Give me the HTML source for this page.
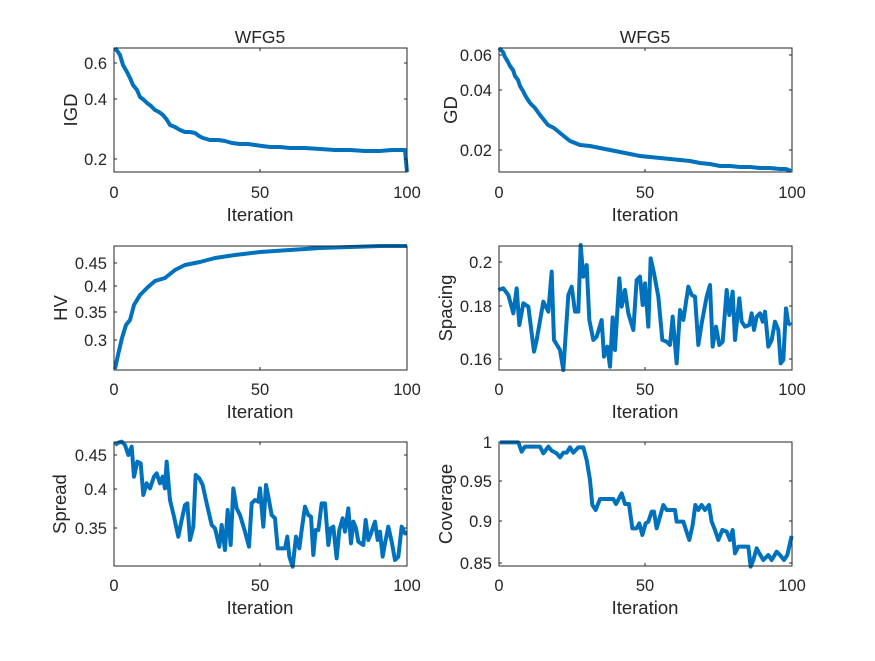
<!DOCTYPE html>
<html><head><meta charset="utf-8"><style>
body{margin:0;background:#fff}
svg text{font-family:"Liberation Sans",Arial,sans-serif;fill:#262626}
.t{font-size:16.5px}
.l{font-size:18.5px}
</style></head><body>
<svg width="875" height="656" viewBox="0 0 875 656" xmlns="http://www.w3.org/2000/svg">
<rect width="875" height="656" fill="#fff"/>
<text x="260" y="43" text-anchor="middle" font-size="17.5">WFG5</text>
<text x="645" y="43" text-anchor="middle" font-size="17.5">WFG5</text>

<!-- Plot 1 IGD -->
<g>
<polyline fill="none" stroke="#0072BD" stroke-width="4" stroke-linejoin="round" points="115,48 118,52 120,55 123,65 127,72 130,78 133,85 137,90 140,97 144,100 147,103 151,106 155,110 159,112 163,115 167,120 170,125 175,127 180,130 185,132 190,132 195,133 199,136 203,138 210,140 218,140 225,141 232,143 240,144 248,144 255,145 262,146 270,147 280,147 290,148 305,148 320,149 335,150 350,150 365,151 380,151 392,150 402,150 405,150 407,172"/>
<rect x="114" y="48" width="293" height="124" fill="none" stroke="#262626" stroke-width="1"/>
<g stroke="#262626"><line x1="114" y1="63" x2="117" y2="63"/><line x1="114" y1="99" x2="117" y2="99"/><line x1="114" y1="159" x2="117" y2="159"/><line x1="407" y1="63" x2="404" y2="63"/><line x1="407" y1="99" x2="404" y2="99"/><line x1="407" y1="159" x2="404" y2="159"/><line x1="260" y1="172" x2="260" y2="169"/><line x1="260" y1="48" x2="260" y2="51"/></g>
<g class="t" text-anchor="end"><text x="107" y="69">0.6</text><text x="107" y="105">0.4</text><text x="107" y="165">0.2</text></g>
<g class="t" text-anchor="middle"><text x="114" y="198">0</text><text x="260" y="198">50</text><text x="407" y="198">100</text></g>
<text class="l" x="260" y="221" text-anchor="middle">Iteration</text>
<text class="l" transform="translate(77,110) rotate(-90)" text-anchor="middle">IGD</text>
</g>

<!-- Plot 2 GD -->
<g>
<polyline fill="none" stroke="#0072BD" stroke-width="4" stroke-linejoin="round" points="499,48 503,52 505,57 508,62 510,66 513,70 515,76 518,80 520,86 523,91 525,95 528,100 530,103 535,108 540,115 544,120 548,125 554,128 560,133 565,137 570,141 575,143 580,145 590,146 600,148 610,150 620,152 630,154 640,156 650,157 660,158 670,159 680,160 690,161 700,163 710,164 720,166 730,166 740,167 750,167 760,168 770,168 780,169 786,169 791,171"/>
<rect x="499" y="48" width="293" height="124" fill="none" stroke="#262626" stroke-width="1"/>
<g stroke="#262626"><line x1="499" y1="55" x2="502" y2="55"/><line x1="499" y1="90" x2="502" y2="90"/><line x1="499" y1="150" x2="502" y2="150"/><line x1="792" y1="55" x2="789" y2="55"/><line x1="792" y1="90" x2="789" y2="90"/><line x1="792" y1="150" x2="789" y2="150"/><line x1="645" y1="172" x2="645" y2="169"/><line x1="645" y1="48" x2="645" y2="51"/></g>
<g class="t" text-anchor="end"><text x="492" y="61">0.06</text><text x="492" y="96">0.04</text><text x="492" y="156">0.02</text></g>
<g class="t" text-anchor="middle"><text x="499" y="198">0</text><text x="645" y="198">50</text><text x="792" y="198">100</text></g>
<text class="l" x="645" y="221" text-anchor="middle">Iteration</text>
<text class="l" transform="translate(457,110) rotate(-90)" text-anchor="middle">GD</text>
</g>

<!-- Plot 3 HV -->
<g>
<polyline fill="none" stroke="#0072BD" stroke-width="4" stroke-linejoin="round" points="115,369 118,355 122,338 126,325 130,320 134,305 140,295 148,287 155,281 165,278 175,270 185,265 200,262 215,258 235,255 260,252 290,250 320,248 350,247 380,246 407,246"/>
<rect x="114" y="246" width="293" height="124" fill="none" stroke="#262626" stroke-width="1"/>
<g stroke="#262626"><line x1="114" y1="263" x2="117" y2="263"/><line x1="114" y1="286" x2="117" y2="286"/><line x1="114" y1="312" x2="117" y2="312"/><line x1="114" y1="340" x2="117" y2="340"/><line x1="260" y1="370" x2="260" y2="367"/></g>
<g class="t" text-anchor="end"><text x="107" y="269">0.45</text><text x="107" y="292">0.4</text><text x="107" y="318">0.35</text><text x="107" y="346">0.3</text></g>
<g class="t" text-anchor="middle"><text x="114" y="395">0</text><text x="260" y="395">50</text><text x="407" y="395">100</text></g>
<text class="l" x="260" y="418" text-anchor="middle">Iteration</text>
<text class="l" transform="translate(67,308) rotate(-90)" text-anchor="middle">HV</text>
</g>

<!-- Plot 4 Spacing -->
<g>
<g transform="translate(430,230) scale(0.33333)">
<polyline fill="none" stroke="#0072BD" stroke-width="12" stroke-linejoin="round" points="205,180 220,175 235,195 250,250 260,175 268,285 280,220 295,230 312,365 320,330 340,215 355,245 365,125 372,330 390,360 400,420 415,195 425,170 435,245 445,245 452,45 460,140 470,105 478,270 490,330 500,320 515,270 522,380 532,350 540,410 548,262 555,360 568,145 575,230 585,180 595,250 610,300 620,150 630,140 638,225 645,160 655,290 662,85 672,130 685,200 697,330 710,335 720,345 728,260 740,400 750,240 760,270 775,170 785,195 795,200 805,345 815,280 830,200 840,165 848,350 858,290 868,345 878,335 890,180 898,255 908,185 915,330 928,205 935,275 945,290 958,285 965,250 972,300 980,260 990,250 998,275 1005,245 1015,350 1025,330 1035,275 1045,300 1052,400 1060,390 1068,235 1075,280 1083,285"/>
</g>
<rect x="499" y="246" width="293" height="124" fill="none" stroke="#262626" stroke-width="1"/>
<g stroke="#262626"><line x1="499" y1="262" x2="502" y2="262"/><line x1="499" y1="306" x2="502" y2="306"/><line x1="499" y1="359" x2="502" y2="359"/><line x1="792" y1="262" x2="789" y2="262"/><line x1="792" y1="306" x2="789" y2="306"/><line x1="792" y1="359" x2="789" y2="359"/><line x1="645" y1="370" x2="645" y2="367"/></g>
<g class="t" text-anchor="end"><text x="492" y="268">0.2</text><text x="492" y="312">0.18</text><text x="492" y="365">0.16</text></g>
<g class="t" text-anchor="middle"><text x="499" y="395">0</text><text x="645" y="395">50</text><text x="792" y="395">100</text></g>
<text class="l" x="645" y="418" text-anchor="middle">Iteration</text>
<text class="l" transform="translate(452,308) rotate(-90)" text-anchor="middle">Spacing</text>
</g>

<!-- Plot 5 Spread -->
<g>
<g transform="translate(50,430) scale(0.33333)">
<polyline fill="none" stroke="#0072BD" stroke-width="12" stroke-linejoin="round" points="195,45 205,38 215,35 225,45 235,75 245,50 252,140 262,95 272,100 280,195 290,160 300,175 312,140 320,130 330,160 338,140 345,175 350,95 360,210 372,260 385,320 395,270 405,225 412,220 420,330 430,290 437,135 448,145 458,165 470,220 485,285 495,295 508,350 515,285 525,360 533,240 542,345 550,175 560,235 570,255 585,305 597,350 605,220 615,210 625,215 630,175 640,290 648,165 655,200 665,255 675,265 683,355 695,355 705,355 712,320 718,380 728,410 738,320 748,355 755,300 765,230 775,255 783,260 790,375 797,300 805,300 815,220 825,220 835,345 842,295 850,290 860,385 868,300 878,265 885,305 895,235 903,340 910,275 918,295 925,335 932,340 940,345 947,270 955,330 963,310 975,275 983,330 990,305 998,380 1005,340 1015,290 1025,335 1035,390 1045,380 1055,290 1065,310 1070,310"/>
</g>
<rect x="114" y="442" width="293" height="124" fill="none" stroke="#262626" stroke-width="1"/>
<g stroke="#262626"><line x1="114" y1="455" x2="117" y2="455"/><line x1="114" y1="489" x2="117" y2="489"/><line x1="114" y1="528" x2="117" y2="528"/><line x1="407" y1="455" x2="404" y2="455"/><line x1="407" y1="489" x2="404" y2="489"/><line x1="407" y1="528" x2="404" y2="528"/><line x1="260" y1="566" x2="260" y2="563"/><line x1="260" y1="442" x2="260" y2="445"/></g>
<g class="t" text-anchor="end"><text x="107" y="461">0.45</text><text x="107" y="495">0.4</text><text x="107" y="534">0.35</text></g>
<g class="t" text-anchor="middle"><text x="114" y="591">0</text><text x="260" y="591">50</text><text x="407" y="591">100</text></g>
<text class="l" x="260" y="614" text-anchor="middle">Iteration</text>
<text class="l" transform="translate(66,504) rotate(-90)" text-anchor="middle">Spread</text>
</g>

<!-- Plot 6 Coverage -->
<g>
<g transform="translate(430,430) scale(0.33333)">
<polyline fill="none" stroke="#0072BD" stroke-width="12" stroke-linejoin="round" points="210,37 265,37 275,65 285,50 330,50 340,70 355,50 365,62 380,70 390,82 400,68 410,68 420,52 430,68 445,52 460,52 470,90 480,150 487,225 497,240 510,207 550,207 558,222 575,190 585,222 597,222 607,295 620,295 628,280 637,315 647,280 655,275 665,245 672,245 680,295 690,260 700,225 710,240 735,240 740,275 760,275 768,300 778,330 788,285 796,225 805,240 815,225 825,240 837,225 845,275 855,300 865,330 877,300 890,305 900,330 908,300 915,370 925,350 955,350 962,410 970,390 980,355 988,370 1000,390 1015,375 1025,390 1040,365 1050,375 1062,390 1072,375 1085,318"/>
</g>
<rect x="499" y="442" width="293" height="124" fill="none" stroke="#262626" stroke-width="1"/>
<g stroke="#262626"><line x1="499" y1="481" x2="502" y2="481"/><line x1="499" y1="521" x2="502" y2="521"/><line x1="499" y1="563" x2="502" y2="563"/><line x1="792" y1="481" x2="789" y2="481"/><line x1="792" y1="521" x2="789" y2="521"/><line x1="792" y1="563" x2="789" y2="563"/><line x1="645" y1="566" x2="645" y2="563"/><line x1="645" y1="442" x2="645" y2="445"/></g>
<g class="t" text-anchor="end"><text x="492" y="448">1</text><text x="492" y="487">0.95</text><text x="492" y="527">0.9</text><text x="492" y="569">0.85</text></g>
<g class="t" text-anchor="middle"><text x="499" y="591">0</text><text x="645" y="591">50</text><text x="792" y="591">100</text></g>
<text class="l" x="645" y="614" text-anchor="middle">Iteration</text>
<text class="l" transform="translate(452,504) rotate(-90)" text-anchor="middle">Coverage</text>
</g>
</svg>
</body></html>
